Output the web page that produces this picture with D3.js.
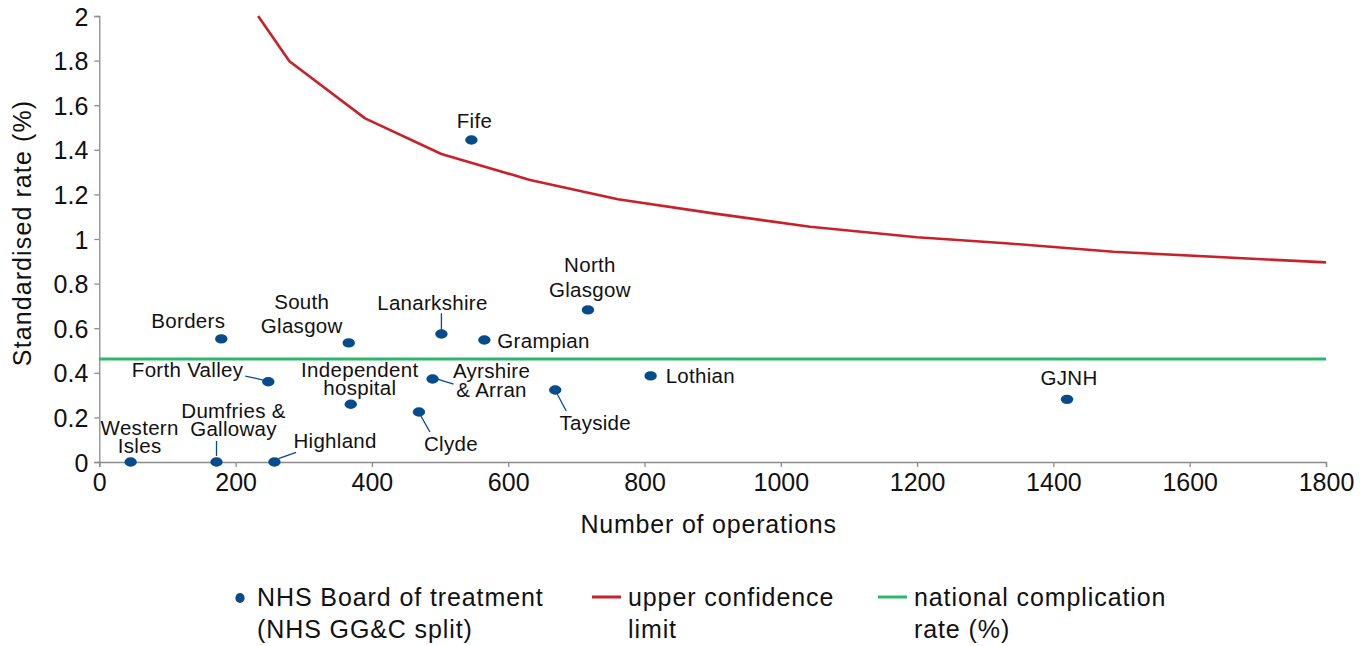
<!DOCTYPE html>
<html>
<head>
<meta charset="utf-8">
<script src="https://cdn.jsdelivr.net/npm/d3@7"></script>
<style>
  html, body { margin: 0; padding: 0; background: #fff; }
  svg { display: block; font-family: "Liberation Sans", Arial, Helvetica, sans-serif; }
</style>
</head>
<body>
<svg id="chart" width="1367" height="646"></svg>
<script>
// Boards of treatment: number of operations and standardised complication rate (%)
const boards = ["Western Isles", "Dumfries & Galloway", "Highland", "Borders", "Forth Valley",
  "South Glasgow", "Independent hospital", "Clyde", "Ayrshire & Arran", "Lanarkshire",
  "Fife", "Grampian", "Tayside", "North Glasgow", "Lothian", "GJNH"];
const operations = [46, 172, 257, 179, 248, 366, 369, 469, 489, 502, 546, 565, 669, 717, 809, 1420];
const rates = [0, 0, 0, 0.552, 0.360, 0.534, 0.259, 0.224, 0.372, 0.574, 1.444, 0.547, 0.323, 0.682, 0.386, 0.281];

// Upper confidence limit by number of operations
const limitN = [233, 279, 390, 502, 632, 761, 901, 1043, 1200, 1330, 1488, 1800];
const limitRate = [2.0, 1.797, 1.541, 1.381, 1.265, 1.178, 1.115, 1.055, 1.008, 0.981, 0.943, 0.895];

// National complication rate (%)
const nationalRate = 0.462;

const xTicks = [0, 200, 400, 600, 800, 1000, 1200, 1400, 1600, 1800];
const yTicks = [0, 0.2, 0.4, 0.6, 0.8, 1, 1.2, 1.4, 1.6, 1.8, 2];

const C = { dot: "#064b8c", red: "#c92129", green: "#2cb86c", axis: "#8c8c8c", text: "#111" };

const svg = d3.select("#chart");
const margin = { left: 99.3, right: 1326, top: 16, bottom: 462 };

const x = d3.scaleLinear().domain([0, 1800]).range([margin.left, margin.right]);
const y = d3.scaleLinear().domain([0, 2]).range([margin.bottom, margin.top]);

// Axes
const xAxis = svg.append("g")
  .attr("transform", `translate(0,${margin.bottom})`)
  .call(d3.axisBottom(x).tickValues(xTicks).tickSize(5).tickPadding(4).tickFormat(d3.format("d")));
const yAxis = svg.append("g")
  .attr("transform", `translate(${margin.left},0)`)
  .call(d3.axisLeft(y).tickValues(yTicks).tickSize(5).tickPadding(6).tickFormat(d => String(+d.toFixed(1))));

[xAxis, yAxis].forEach(g => {
  g.select(".domain").attr("stroke", C.axis).attr("stroke-width", 1.3);
  g.selectAll(".tick line").attr("stroke", C.axis).attr("stroke-width", 1.3);
  g.selectAll(".tick text").attr("fill", C.text).attr("font-size", 25)
    .attr("font-family", "Liberation Sans, Arial, sans-serif");
});
yAxis.selectAll(".tick text").attr("dy", "0.36em");
xAxis.selectAll(".tick text").attr("dy", "0.8em");

// Axis titles
svg.append("text")
  .attr("x", (margin.left + margin.right) / 2 - 4).attr("y", 533)
  .attr("text-anchor", "middle").attr("font-size", 25).attr("letter-spacing", 0.8)
  .attr("fill", C.text).text("Number of operations");
svg.append("text")
  .attr("transform", "translate(31,233) rotate(-90)")
  .attr("text-anchor", "middle").attr("font-size", 25).attr("letter-spacing", 1.1)
  .attr("fill", C.text).text("Standardised rate (%)");

// National complication rate
svg.append("line")
  .attr("x1", x(0)).attr("x2", x(1800))
  .attr("y1", y(nationalRate)).attr("y2", y(nationalRate))
  .attr("stroke", C.green).attr("stroke-width", 3);

// Upper confidence limit
const limitLine = d3.line().x((d, i) => x(limitN[i])).y(d => y(d));
svg.append("path")
  .attr("d", limitLine(limitRate))
  .attr("fill", "none").attr("stroke", C.red).attr("stroke-width", 2.6)
  .attr("stroke-linejoin", "round");

// Label placement around each board's point: text anchor, line baselines and leader lines (px offsets)
const labelLayout = {
  "Western Isles":        { anchor: "middle", dx: 9,   lines: [["Western", -27], ["Isles", -8.7]] },
  "Dumfries & Galloway":  { anchor: "middle", dx: 17,  lines: [["Dumfries &", -43.7], ["Galloway", -26]], leader: [0, -21, 0, -6] },
  "Highland":             { anchor: "start",  dx: 19,  lines: [["Highland", -13.7]], leader: [4, -3.3, 21.7, -9.7] },
  "Borders":              { anchor: "middle", dx: -33, lines: [["Borders", -10.7]] },
  "Forth Valley":         { anchor: "end",    dx: -25, lines: [["Forth Valley", -4.4]], leader: [-23, -5.7, -5, -1.7] },
  "South Glasgow":        { anchor: "middle", dx: -47, lines: [["South", -34], ["Glasgow", -10]] },
  "Independent hospital": { anchor: "middle", dx: 9,   lines: [["Independent", -27.3], ["hospital", -9.7]] },
  "Clyde":                { anchor: "middle", dx: 32,  lines: [["Clyde", 38.7]], leader: [2, 4, 11, 20] },
  "Ayrshire & Arran":     { anchor: "middle", dx: 59,  lines: [["Ayrshire", -0.7], ["& Arran", 17.7]], leader: [5, 0, 21, 5] },
  "Lanarkshire":          { anchor: "middle", dx: -9,  lines: [["Lanarkshire", -24]], leader: [0, -20.7, 0, -4] },
  "Fife":                 { anchor: "middle", dx: 3,   lines: [["Fife", -12]] },
  "Grampian":             { anchor: "start",  dx: 13,  lines: [["Grampian", 8.3]] },
  "Tayside":              { anchor: "middle", dx: 40,  lines: [["Tayside", 40]], leader: [2, 4, 11, 21] },
  "North Glasgow":        { anchor: "middle", dx: 2,   lines: [["North", -38], ["Glasgow", -12.7]] },
  "Lothian":              { anchor: "start",  dx: 15,  lines: [["Lothian", 7.3]] },
  "GJNH":                 { anchor: "middle", dx: 2,   lines: [["GJNH", -14.3]] }
};

const pts = boards.map((name, i) => ({ name, n: operations[i], rate: rates[i] }));

const labels = svg.append("g").attr("font-size", 20.5).attr("fill", C.text);
pts.forEach(p => {
  const L = labelLayout[p.name];
  const px = x(p.n), py = y(p.rate);
  if (L.leader) {
    labels.append("line")
      .attr("x1", px + L.leader[0]).attr("y1", py + L.leader[1])
      .attr("x2", px + L.leader[2]).attr("y2", py + L.leader[3])
      .attr("stroke", C.dot).attr("stroke-width", 1.3);
  }
  // one text element per label, one tspan per line
  const t = labels.append("text").attr("text-anchor", L.anchor).attr("letter-spacing", 0.3);
  L.lines.forEach(([s, dy]) => {
    t.append("tspan").attr("x", px + L.dx).attr("y", py + dy).text(s);
  });
});

// Board points
svg.append("g").selectAll("ellipse").data(pts).join("ellipse")
  .attr("cx", d => x(d.n)).attr("cy", d => y(d.rate))
  .attr("rx", 6.2).attr("ry", 4.7).attr("fill", C.dot);

// Legend
const lg = svg.append("g").attr("font-size", 25).attr("fill", C.text).attr("letter-spacing", 0.9);
lg.append("ellipse").attr("cx", 240).attr("cy", 598).attr("rx", 4.6).attr("ry", 5).attr("fill", C.dot);
lg.append("text").attr("x", 257).attr("y", 606).text("NHS Board of treatment");
lg.append("text").attr("x", 257).attr("y", 638).text("(NHS GG&C split)");
lg.append("line").attr("x1", 592).attr("x2", 621).attr("y1", 597).attr("y2", 597)
  .attr("stroke", C.red).attr("stroke-width", 3);
lg.append("text").attr("x", 628).attr("y", 606).text("upper confidence");
lg.append("text").attr("x", 628).attr("y", 638).text("limit");
lg.append("line").attr("x1", 878).attr("x2", 907).attr("y1", 597).attr("y2", 597)
  .attr("stroke", C.green).attr("stroke-width", 3);
lg.append("text").attr("x", 914).attr("y", 606).text("national complication");
lg.append("text").attr("x", 914).attr("y", 638).text("rate (%)");
</script>
</body>
</html>
